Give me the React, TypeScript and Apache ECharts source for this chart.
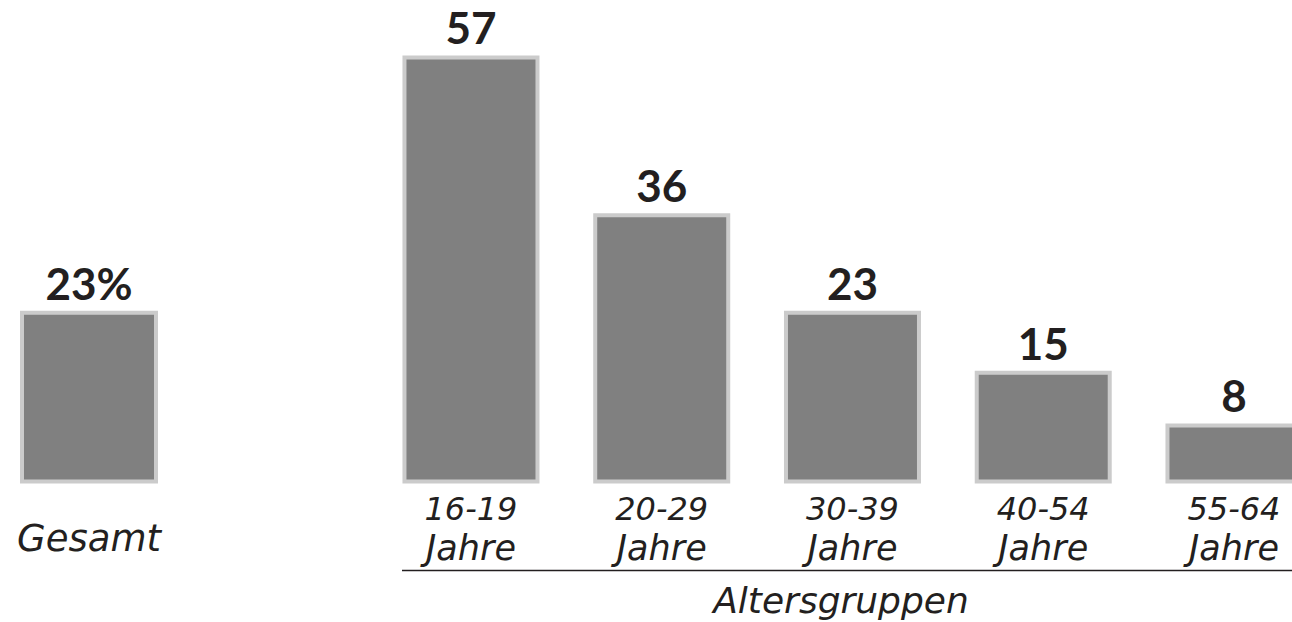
import React, { useEffect, useRef } from "react";
import * as echarts from "echarts";

const totalCategory = ["Gesamt"];
const totalValues = [23];
const ageGroups = ["16-19", "20-29", "30-39", "40-54", "55-64"];
const ageUnit = "Jahre";
const ageValues = [57, 36, 23, 15, 8];
const axisTitle = "Altersgruppen";

const LABEL_FONT = "'DejaVu Sans', sans-serif";
const VALUE_FONT = "Lato, 'DejaVu Sans', sans-serif";
const TEXT = "#231f20";

export default function App() {
  const ref = useRef<HTMLDivElement>(null);
  useEffect(() => {
    const chart = echarts.init(ref.current!, undefined, { renderer: "svg" });
    const top = 32.9;
    const height = 450.6;
    const barStyle = { color: "#808080", borderColor: "#cbcbcb", borderWidth: 4 };
    const valueLabel = {
      show: true,
      position: "top",
      distance: 6,
      fontFamily: VALUE_FONT,
      fontWeight: "bold",
      fontSize: 44,
      color: TEXT,
    };
    chart.setOption({
      animation: false,
      grid: [
        { left: 0, width: 178, top, height },
        { left: 375.6, width: 953.75, top, height },
      ],
      xAxis: [
        {
          type: "category",
          gridIndex: 0,
          data: totalCategory,
          axisLine: { show: false },
          axisTick: { show: false },
          axisLabel: {
            margin: 36,
            fontFamily: LABEL_FONT,
            fontStyle: "italic",
            fontSize: 37,
            lineHeight: 37,
            color: TEXT,
          },
        },
        {
          type: "category",
          gridIndex: 1,
          data: ageGroups,
          axisLine: { show: false },
          axisTick: { show: false },
          axisLabel: {
            margin: 6,
            interval: 0,
            formatter: (v: string) => `{n|${v}}\n{w|${ageUnit}}`,
            rich: {
              n: {
                fontFamily: LABEL_FONT,
                fontStyle: "italic",
                fontSize: 32,
                lineHeight: 39,
                color: TEXT,
              },
              w: {
                fontFamily: LABEL_FONT,
                fontStyle: "italic",
                fontSize: 35,
                lineHeight: 39,
                color: TEXT,
              },
            },
          },
        },
      ],
      yAxis: [
        { type: "value", gridIndex: 0, min: 0, max: 60, show: false },
        { type: "value", gridIndex: 1, min: 0, max: 60, show: false },
      ],
      series: [
        {
          type: "bar",
          xAxisIndex: 0,
          yAxisIndex: 0,
          data: totalValues,
          barWidth: 138,
          itemStyle: barStyle,
          label: { ...valueLabel, formatter: "{c}%" },
        },
        {
          type: "bar",
          xAxisIndex: 1,
          yAxisIndex: 1,
          data: ageValues,
          barWidth: 137,
          itemStyle: barStyle,
          label: valueLabel,
        },
      ],
      graphic: [
        {
          type: "line",
          shape: { x1: 402, y1: 570.5, x2: 1292, y2: 570.5 },
          style: { stroke: "#231f20", lineWidth: 1.5 },
        },
        {
          type: "text",
          x: 841,
          y: 600,
          style: {
            text: axisTitle,
            fontFamily: LABEL_FONT,
            fontStyle: "italic",
            fontSize: 36,
            fill: TEXT,
            align: "center",
            verticalAlign: "middle",
          },
        },
      ],
    });
    return () => chart.dispose();
  }, []);
  return (
    <div
      style={{
        position: "absolute",
        left: 0,
        top: 0,
        width: 1292,
        height: 622,
        overflow: "hidden",
        background: "#fff",
      }}
    >
      <div ref={ref} style={{ width: 1340, height: 622 }} />
    </div>
  );
}
